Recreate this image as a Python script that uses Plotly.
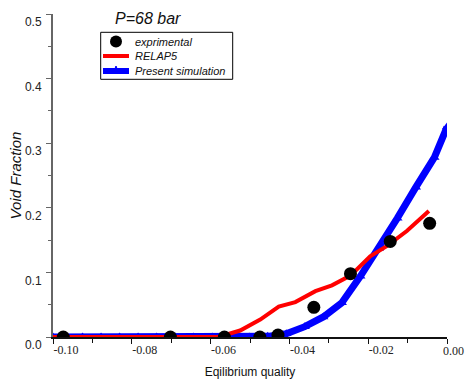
import plotly.graph_objects as go

# Experimental data
exp_x = [-0.0974, -0.0702, -0.0565, -0.0475, -0.0429, -0.0338, -0.0245, -0.0144, -0.0044]
exp_y = [0.0, 0.0, 0.0, 0.0, 0.003, 0.046, 0.098, 0.148, 0.176]

# RELAP5
relap_x = [-0.100, -0.058, -0.0525, -0.0474, -0.0427, -0.0385, -0.0334, -0.0292, -0.0245, -0.0195, -0.0152, -0.0102, -0.0046]
relap_y = [0.0, 0.0, 0.010, 0.027, 0.047, 0.054, 0.071, 0.080, 0.095, 0.125, 0.141, 0.164, 0.195]

# Present simulation
sim_x = [-0.1000, -0.0972, -0.0925, -0.0878, -0.0831, -0.0784, -0.0737, -0.0690, -0.0643, -0.0596,
         -0.0549, -0.0502, -0.0455, -0.0408, -0.0361, -0.0314, -0.0267, -0.0220, -0.0173,
         -0.0126, -0.0079, -0.0032, 0.0]
sim_y = [0.0, 0.0, 0.0, 0.0, 0.0, 0.0, 0.0, 0.0, 0.0, 0.0,
         0.0, 0.0, 0.001, 0.005, 0.016, 0.031, 0.053, 0.094, 0.137,
         0.184, 0.232, 0.278, 0.325]

series_names = ["exprimental", "RELAP5", "Present simulation"]
series_colors = ["black", "#ff0000", "#0000ff"]

x_tickvals = [-0.10, -0.08, -0.06, -0.04, -0.02, 0.0]
x_ticktext = ["-0.10", "-0.08", "-0.06", "-0.04", "-0.02", ""]
x_last_label = "0.00"
y_tickvals = [0.0, 0.1, 0.2, 0.3, 0.4, 0.5]
y_ticktext = ["0.0", "0.1", "0.2", "0.3", "0.4", "0.5"]

x_range = [-0.10, 0.0]
y_range = [0.0, 0.5]

SANS = "Liberation Sans, Arial, sans-serif"
SERIF = "Liberation Serif, Times New Roman, serif"

fig = go.Figure()
fig.add_trace(go.Scatter(
    x=sim_x, y=sim_y, mode="lines+markers", name=series_names[2],
    line=dict(color=series_colors[2], width=7),
    marker=dict(symbol="triangle-up", size=9, color=series_colors[2]),
    showlegend=False,
))
fig.add_trace(go.Scatter(
    x=relap_x, y=relap_y, mode="lines", name=series_names[1],
    line=dict(color=series_colors[1], width=4),
    showlegend=False,
))
fig.add_trace(go.Scatter(
    x=exp_x, y=exp_y, mode="markers", name=series_names[0],
    marker=dict(symbol="circle", size=13, color=series_colors[0]),
    showlegend=False,
))

# ---- custom legend (paper coordinates) ----
W, H, L, B = 394.0, 323.0, 53.0, 42.0
def px(xp):
    return (xp - L) / W
def py(yp):
    return (379 - B - yp) / H

shapes = []
shapes.append(dict(type="rect", xref="paper", yref="paper",
                   x0=px(100.7), x1=px(232.7), y0=py(79.3), y1=py(32.3),
                   line=dict(color="black", width=1), fillcolor="white", layer="above"))
shapes.append(dict(type="circle", xref="paper", yref="paper",
                   xsizemode="pixel", ysizemode="pixel",
                   xanchor=px(116), yanchor=py(41.5),
                   x0=-6, x1=6, y0=-6, y1=6,
                   line=dict(color=series_colors[0], width=0), fillcolor=series_colors[0]))
shapes.append(dict(type="line", xref="paper", yref="paper",
                   x0=px(103), x1=px(129), y0=py(56), y1=py(56),
                   line=dict(color=series_colors[1], width=4)))
shapes.append(dict(type="line", xref="paper", yref="paper",
                   x0=px(103), x1=px(129), y0=py(71), y1=py(71),
                   line=dict(color=series_colors[2], width=6)))
shapes.append(dict(type="path", xref="paper", yref="paper",
                   xsizemode="pixel", ysizemode="pixel",
                   xanchor=px(116), yanchor=py(71),
                   path="M-2,0 L2,0 L0,5 Z",
                   line=dict(color=series_colors[2], width=1), fillcolor=series_colors[2]))

annotations = []
for name, ypix in zip(series_names, [41.5, 56, 71]):
    annotations.append(dict(text=name, xref="paper", yref="paper",
                            x=px(133), y=py(ypix), xanchor="left", yanchor="middle",
                            showarrow=False,
                            font=dict(family=SANS, size=11, style="italic", color="#111")))
annotations.append(dict(
    text="P=68 bar", xref="paper", yref="paper", x=px(148), y=py(18),
    xanchor="center", yanchor="middle", showarrow=False,
    font=dict(family=SANS, size=16, style="italic", color="#111"),
))
annotations.append(dict(
    text=x_last_label, xref="paper", yref="paper", x=px(466), y=py(350.5),
    xanchor="right", yanchor="middle", showarrow=False,
    font=dict(family=SERIF, size=12, color="#222"),
))

fig.update_layout(
    width=467, height=379,
    margin=dict(l=53, r=20, t=14, b=42),
    paper_bgcolor="white", plot_bgcolor="white",
    showlegend=False,
    font=dict(family=SANS, color="#222"),
    shapes=shapes, annotations=annotations,
)

fig.update_xaxes(
    range=x_range, showgrid=False, zeroline=False, automargin=False,
    showline=True, linecolor="#111", linewidth=1.5,
    ticks="outside", ticklen=5, tickwidth=1, tickcolor="#111",
    tickmode="array", tickvals=x_tickvals, ticktext=x_ticktext,
    tickfont=dict(family=SERIF, size=12, color="#222"),
    ticklabelshift=13, ticklabelstandoff=-4, ticklabeloverflow="allow",
    minor=dict(dtick=0.01, ticks="outside", ticklen=4, tickcolor="#111"),
    title=dict(text="Eqilibrium quality", font=dict(family=SANS, size=12, color="#111"), standoff=11),
)
fig.update_yaxes(
    range=y_range, showgrid=False, zeroline=False, automargin=False,
    showline=True, linecolor="#666", linewidth=2,
    ticks="outside", ticklen=5, tickwidth=1, tickcolor="#666",
    tickmode="array", tickvals=y_tickvals, ticktext=y_ticktext,
    tickfont=dict(family=SANS, size=12, color="#222"),
    ticklabelshift=8, ticklabelstandoff=2, ticklabeloverflow="allow",
    minor=dict(dtick=0.05, ticks="outside", ticklen=3, tickcolor="#666"),
    title=dict(text="Void Fraction", font=dict(family=SANS, size=15, style="italic", color="#111"), standoff=0),
)

fig.write_html("out.html")
